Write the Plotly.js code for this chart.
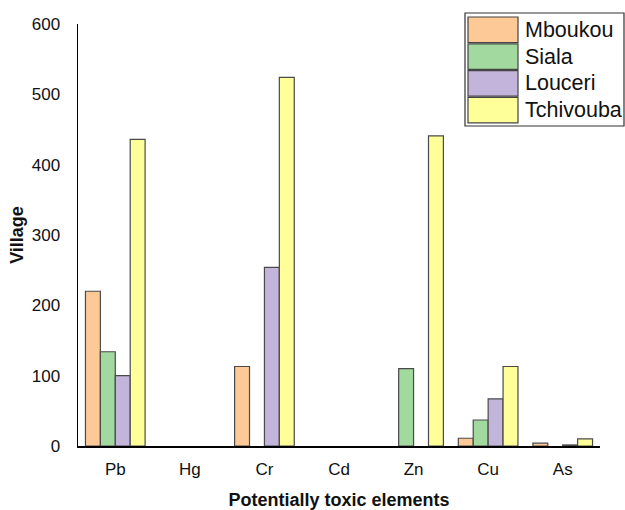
<!DOCTYPE html>
<html><head><meta charset="utf-8">
<script src="https://cdn.plot.ly/plotly-3.0.1.min.js"></script>
<style>html,body{margin:0;padding:0;background:#fff}</style>
</head><body><div id="chart" style="width:625px;height:510px"></div>
<script>
var elements = ["Pb","Hg","Cr","Cd","Zn","Cu","As"];
var villages = ["Mboukou","Siala","Louceri","Tchivouba"];
var colors = ["#FDC996","#A2D99E","#C2B4DA","#FFFF99"];
var mboukou   = [220, 0, 113, 0, 0, 11, 4];
var siala     = [134, 0, 0, 0, 110, 37, 0];
var louceri   = [100, 0, 254, 0, 0, 67, 1.5];
var tchivouba = [436, 0, 524, 0, 441, 113, 10];
var series = [mboukou, siala, louceri, tchivouba];

var traces = series.map(function(v,i){
  return {type:'bar', name:villages[i], x:elements,
    y:v.map(function(d){return d === 0 ? null : d;}),
    marker:{color:colors[i], line:{color:'#4a4a4a', width:1.2}}, showlegend:false};
});

var L = 78, R = 600, T = 24, B = 446, W = R - L, H = B - T;
function fx(x){return (x - L)/W;} function fy(y){return (B - y)/H;}
var shapes = [], annotations = [];
var lx0 = 468, lx1 = 518, ly0 = 17, pitch = 26.8, sh = 25.5;
shapes.push({type:'rect', xref:'paper', yref:'paper', x0:fx(465), x1:fx(624),
  y0:fy(126), y1:fy(13), line:{color:'#333', width:1.2}, fillcolor:'rgba(0,0,0,0)'});
villages.forEach(function(n,i){
  var t = ly0 + i*pitch, b = t + sh;
  shapes.push({type:'rect', xref:'paper', yref:'paper',
    x0:fx(lx0), x1:fx(lx1), y0:fy(b), y1:fy(t),
    fillcolor:colors[i], line:{color:'#444', width:1.2}});
  annotations.push({xref:'paper', yref:'paper', x:fx(523), y:fy((t+b)/2),
    xanchor:'left', yanchor:'middle', showarrow:false, text:n,
    font:{family:'Liberation Sans, Arial, sans-serif', size:21.5, color:'#111'}});
});

var layout = {
  width:625, height:510,
  margin:{l:L, r:625-R, t:T, b:510-B},
  paper_bgcolor:'#fff', plot_bgcolor:'#fff',
  barmode:'group', bargap:0.2, bargroupgap:0,
  font:{family:'Liberation Sans, Arial, sans-serif', size:17, color:'#111'},
  xaxis:{showline:true, linecolor:'#000', linewidth:1.5, ticks:'', showgrid:false, zeroline:false,
    tickfont:{size:17}, ticklabelstandoff:7,
    title:{text:'<b>Potentially toxic elements</b>', font:{size:18}, standoff:23}},
  yaxis:{range:[0,600], dtick:100, showline:true, linecolor:'#000', linewidth:1.5, ticks:'',
    showgrid:false, zeroline:false, tickfont:{size:17}, ticklabelstandoff:13,
    title:{text:'<b>Village</b>', font:{size:18}, standoff:3}},
  shapes:shapes, annotations:annotations, showlegend:false
};
Plotly.newPlot('chart', traces, layout, {staticPlot:true, displayModeBar:false});
</script></body></html>
